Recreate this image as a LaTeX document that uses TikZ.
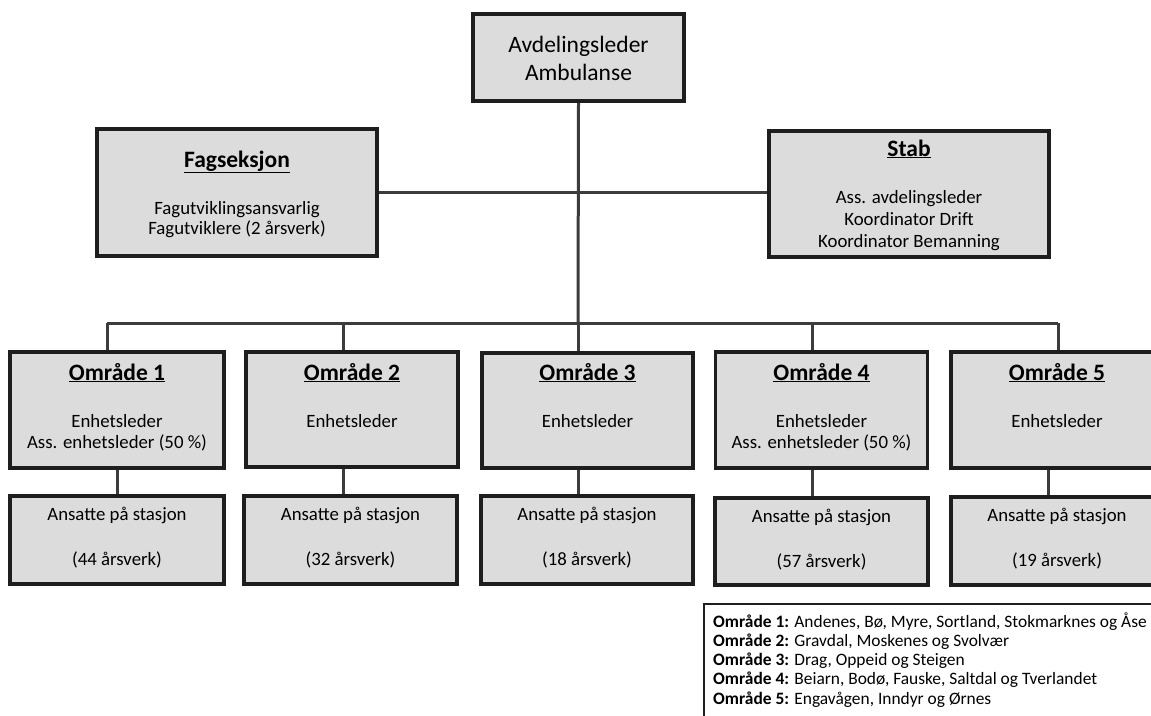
\documentclass[tikz,border=0pt]{standalone}
\usepackage{fontspec}
\setmainfont{Carlito}
\usetikzlibrary{backgrounds}
\definecolor{boxgray}{HTML}{DCDCDC}
\definecolor{edge}{HTML}{1E1E1E}
\definecolor{wire}{HTML}{3C3C3C}
\begin{document}
\begin{tikzpicture}[x=1pt,y=-1pt,
  box/.style={draw=edge, line width=3.2pt, fill=boxgray, inner sep=0pt},
  conn/.style={draw=wire, line width=3pt},
  legbox/.style={draw=edge, line width=2pt, fill=white, inner sep=0pt},
  ttl/.style={anchor=base, inner sep=0pt, font=\fontsize{23.5}{27}\selectfont\bfseries},
  bigt/.style={anchor=base, inner sep=0pt, font=\fontsize{23.5}{27}\selectfont},
  bod/.style={anchor=base, inner sep=0pt, font=\fontsize{18.8}{22}\selectfont},
  leg/.style={anchor=base west, inner sep=0pt, font=\fontsize{17.4}{19}\selectfont}]
\useasboundingbox (0,0) rectangle (1151,715);

% boxes
\node[box, minimum width=211pt, minimum height=87pt] (top) at (578.5,57.5) {};
\node[box, minimum width=280pt, minimum height=127pt] (fag) at (237,192.5) {};
\node[box, minimum width=280pt, minimum height=126pt] (stab) at (909,194) {};
\node[box, minimum width=214pt, minimum height=116pt] (o1) at (117,410) {};
\node[box, minimum width=212pt, minimum height=115pt] (o2) at (352,409.5) {};
\node[box, minimum width=211pt, minimum height=115pt] (o3) at (587.5,410.5) {};
\node[box, minimum width=212pt, minimum height=116pt] (o4) at (821.5,410) {};
\node[box, minimum width=212pt, minimum height=116pt] (o5) at (1057,410) {};
\node[box, minimum width=214pt, minimum height=88pt] (l1) at (117,540) {};
\node[box, minimum width=213pt, minimum height=88pt] (l2) at (350.5,540) {};
\node[box, minimum width=212pt, minimum height=88pt] (l3) at (587,540) {};
\node[box, minimum width=213pt, minimum height=87pt] (l4) at (821.5,541.5) {};
\node[box, minimum width=212pt, minimum height=88pt] (l5) at (1057,541) {};
\node[legbox, anchor=north west, minimum width=480pt, minimum height=140pt] (leg) at (703,603) {};

% connector points
\coordinate (hub) at (578,323);
\coordinate (b1) at (107,323);
\coordinate (b2) at (343,323);
\coordinate (b4) at (812,323);
\coordinate (b5) at (1058,323);
\coordinate (c5) at (1048,323);

\begin{scope}[on background layer]
  \fill[white] (0,0) rectangle (1151,715);
  \draw[conn] (top.south) -- (hub);
  \draw[conn] (fag.east) -- (fag.east -| stab.west);
  \draw[conn] (b1) -- (b5);
  \draw[conn] (b1) -- (b1 |- o1.north);
  \draw[conn] (b2) -- (b2 |- o2.north);
  \draw[conn] (hub) -- (hub |- o3.north);
  \draw[conn] (b4) -- (b4 |- o4.north);
  \draw[conn] (b5) -- (b5 |- o5.north);
  \draw[conn] (o1.south) -- (l1.north);
  \draw[conn] (b2 |- o2.south) -- (b2 |- l2.north);
  \draw[conn] (hub |- o3.south) -- (hub |- l3.north);
  \draw[conn] (b4 |- o4.south) -- (b4 |- l4.north);
  \draw[conn] (c5 |- o5.south) -- (c5 |- l5.north);
\end{scope}

% texts
\node[bigt] (t1) at (578.5,52) {Avdelingsleder};
\node[bigt] (t2) at (578.5,80) {Ambulanse};

\node[ttl] (f0) at (237,167) {\underline{Fagseksjon}};
\node[bod] (f1) at (237,214) {Fagutviklingsansvarlig};
\node[bod] (f2) at (237,234) {Fagutviklere (2 årsverk)};

\node[ttl] (s0) at (909,156) {\underline{Stab}};
\node[bod] (s1) at (909,203) {Ass. avdelingsleder};
\node[bod] (s2) at (909,225) {Koordinator Drift};
\node[bod] (s3) at (909,247) {Koordinator Bemanning};

\node[ttl] (o1a) at (117,380) {\underline{Område 1}};
\node[bod] (o1b) at (117,427) {Enhetsleder};
\node[bod] (o1c) at (117,448) {Ass. enhetsleder (50 \%)};
\node[ttl] (o2a) at (352,380) {\underline{Område 2}};
\node[bod] (o2b) at (352,427) {Enhetsleder};
\node[ttl] (o3a) at (587.5,380) {\underline{Område 3}};
\node[bod] (o3b) at (587.5,427) {Enhetsleder};
\node[ttl] (o4a) at (821.5,380) {\underline{Område 4}};
\node[bod] (o4b) at (821.5,427) {Enhetsleder};
\node[bod] (o4c) at (821.5,448) {Ass. enhetsleder (50 \%)};
\node[ttl] (o5a) at (1057,380) {\underline{Område 5}};
\node[bod] (o5b) at (1057,427) {Enhetsleder};

\node[bod] (l1a) at (117,520) {Ansatte på stasjon};
\node[bod] (l1b) at (117,565) {(44 årsverk)};
\node[bod] (l2a) at (350.5,520) {Ansatte på stasjon};
\node[bod] (l2b) at (350.5,565) {(32 årsverk)};
\node[bod] (l3a) at (587,520) {Ansatte på stasjon};
\node[bod] (l3b) at (587,565) {(18 årsverk)};
\node[bod] (l4a) at (821.5,522) {Ansatte på stasjon};
\node[bod] (l4b) at (821.5,567) {(57 årsverk)};
\node[bod] (l5a) at (1057,521) {Ansatte på stasjon};
\node[bod] (l5b) at (1057,566) {(19 årsverk)};

\node[leg] (g1) at (713,627) {\textbf{Område 1:} Andenes, Bø, Myre, Sortland, Stokmarknes og Åse};
\node[leg] (g2) at (713,646) {\textbf{Område 2:} Gravdal, Moskenes og Svolvær};
\node[leg] (g3) at (713,665.5) {\textbf{Område 3:} Drag, Oppeid og Steigen};
\node[leg] (g4) at (713,684.5) {\textbf{Område 4:} Beiarn, Bodø, Fauske, Saltdal og Tverlandet};
\node[leg] (g5) at (713,704) {\textbf{Område 5:} Engavågen, Inndyr og Ørnes};
\end{tikzpicture}
\end{document}
